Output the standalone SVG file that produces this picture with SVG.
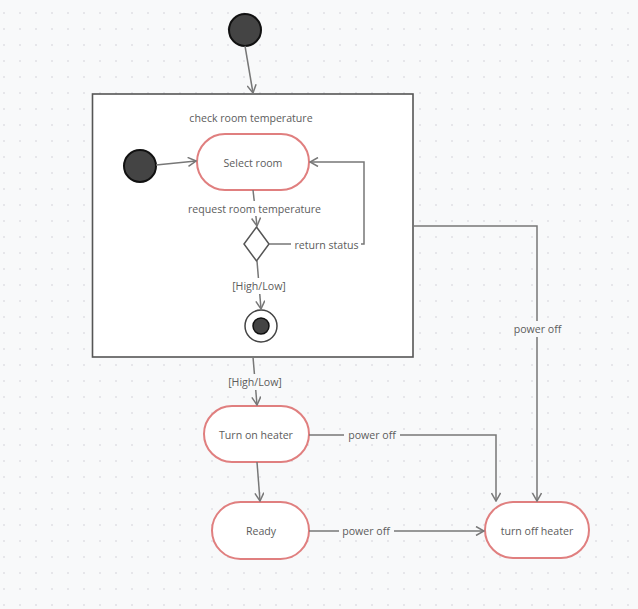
<svg xmlns="http://www.w3.org/2000/svg" width="638" height="609" viewBox="0 0 638 609">
  <defs>
    <pattern id="dots" x="4" y="13" width="16" height="16" patternUnits="userSpaceOnUse">
      <circle cx="0" cy="0" r="1" fill="#e0e1e4"/>
      <circle cx="16" cy="0" r="1" fill="#e0e1e4"/>
      <circle cx="0" cy="16" r="1" fill="#e0e1e4"/>
      <circle cx="16" cy="16" r="1" fill="#e0e1e4"/>
    </pattern>
    <marker id="arrow" viewBox="0 0 10 10" refX="9" refY="5" markerWidth="10" markerHeight="10" markerUnits="userSpaceOnUse" orient="auto">
      <path d="M1,0.5 L9,5 L1,9.5" fill="none" stroke="#777" stroke-width="1.5"/>
    </marker>
  </defs>
  <style>
    .state { fill: #ffffff; stroke: #e07f7f; stroke-width: 2; }
    .box { fill: #ffffff; stroke: #555; stroke-width: 1.6; }
    .init { fill: #444; stroke: #111; stroke-width: 2; }
    .edge { fill: none; stroke: #777; stroke-width: 1.5; }
    .arr { marker-end: url(#arrow); }
    .label { font-family: "Open Sans", "Liberation Sans", sans-serif; font-size: 10.6px; fill: #5c5c5c; text-anchor: middle; dominant-baseline: central; }
    .bg-out { fill: #f8f9fa; }
    .bg-in { fill: #ffffff; }
  </style>

  <!-- canvas -->
  <rect x="0" y="0" width="638" height="609" fill="#f8f9fa"/>
  <rect x="0" y="0" width="638" height="609" fill="url(#dots)"/>

  <!-- composite state -->
  <g id="check-room-temperature">
    <rect class="box" x="92.5" y="94" width="320.5" height="263"/>
    <text class="label" x="251" y="118">check room temperature</text>
  </g>

  <g id="start">
    <circle class="init" cx="245" cy="30" r="16"/>
  </g>
  <g id="inner-start">
    <circle class="init" cx="140" cy="166" r="16"/>
  </g>
  <g id="select-room">
    <rect class="state" x="197" y="134" width="112" height="56" rx="28"/>
    <text class="label" x="253" y="163">Select room</text>
  </g>
  <g id="decision">
    <polygon points="256.5,227 269,244 256.5,261 244,244" fill="#ffffff" stroke="#555" stroke-width="1.5"/>
  </g>
  <g id="inner-final">
    <circle cx="261" cy="326" r="16" fill="#ffffff" stroke="#444" stroke-width="1.5"/>
    <circle cx="261" cy="326" r="8" fill="#444" stroke="#111" stroke-width="1.5"/>
  </g>
  <g id="turn-on-heater">
    <rect class="state" x="204" y="406" width="105" height="56" rx="28"/>
    <text class="label" x="256" y="435">Turn on heater</text>
  </g>
  <g id="ready">
    <rect class="state" x="212" y="502" width="97" height="57" rx="28.5"/>
    <text class="label" x="261" y="531">Ready</text>
  </g>
  <g id="turn-off-heater">
    <rect class="state" x="485" y="502" width="104" height="56" rx="28"/>
    <text class="label" x="537" y="531">turn off heater</text>
  </g>

  <!-- connectors -->
  <g id="connectors">
    <path class="edge arr" d="M245,46 L253,93"/>
    <path class="edge arr" d="M156,165 L196,161"/>
    <path class="edge arr" d="M253,190 L257,226"/>
    <path class="edge arr" d="M269,244 H364 V162 H310"/>
    <path class="edge arr" d="M257,261 L261,309"/>
    <path class="edge arr" d="M253,357 L257,405"/>
    <path class="edge arr" d="M257,462 L260,501"/>
    <path class="edge arr" d="M309,435 H496 V501"/>
    <path class="edge arr" d="M309,531 H484"/>
    <path class="edge arr" d="M413,226 H537 V501"/>

    <!-- connector labels -->
    <rect class="bg-in" x="185" y="201" width="140" height="15"/>
    <text class="label" x="254.5" y="209">request room temperature</text>
    <rect class="bg-in" x="291" y="237" width="70" height="15"/>
    <text class="label" x="326.5" y="245">return status</text>
    <rect class="bg-in" x="228" y="278" width="62" height="16"/>
    <text class="label" x="259" y="286">[High/Low]</text>
    <rect class="bg-out" x="224" y="374" width="62" height="16"/>
    <text class="label" x="255" y="382">[High/Low]</text>
    <rect class="bg-out" x="344" y="427" width="56" height="16"/>
    <text class="label" x="372" y="435">power off</text>
    <rect class="bg-out" x="339" y="523" width="55" height="16"/>
    <text class="label" x="366" y="531">power off</text>
    <rect class="bg-out" x="510" y="321" width="55" height="16"/>
    <text class="label" x="537.5" y="329">power off</text>
  </g>
</svg>
